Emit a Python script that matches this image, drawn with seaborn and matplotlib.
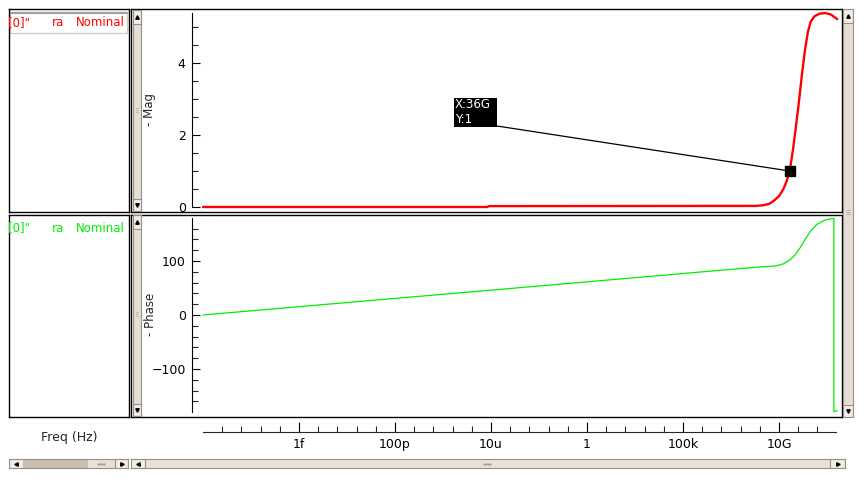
import numpy as np
import pandas as pd
import matplotlib.pyplot as plt
import seaborn as sns
from matplotlib.patches import Rectangle
from matplotlib.ticker import FixedLocator, FixedFormatter, NullFormatter

sns.set_style("white")
plt.rcParams['font.family'] = ['DejaVu Sans']

# magnitude trace (log10 of frequency, value)
mag_logf = [-20.0, -5.2, -5.1, 8.8, 9.2, 9.5, 9.7, 10.0, 10.23, 10.4, 10.556, 10.73,
            10.85, 11.0, 11.2, 11.35, 11.5, 11.65, 11.85, 12.1, 12.4, 12.7, 13.03]
mag_val = [0.0, 0.0, 0.025, 0.03, 0.05, 0.09, 0.16, 0.3, 0.5, 0.72, 1.0, 1.6,
           2.1, 2.75, 3.7, 4.35, 4.85, 5.15, 5.3, 5.37, 5.39, 5.35, 5.22]

# phase trace
phase_logf = [-20.0, -15.0, -10.0, -5.0, 0.0, 5.0, 8.0, 9.0, 9.8, 10.21, 10.57, 10.83,
              11.09, 11.35, 11.61, 11.98, 12.4, 12.86, 12.86, 13.03]
phase_val = [0.0, 15.4, 30.7, 46.0, 61.4, 76.8, 86.0, 89.0, 90.7, 94.4, 102.0, 111.0,
             124.0, 139.0, 154.0, 168.0, 176.0, 179.0, -179.0, -177.0]

cursor_f, cursor_y = 36e9, 1.0
xtick_vals = [1e-15, 1e-10, 1e-5, 1.0, 1e5, 1e10]
xtick_labels = ['1f', '100p', '10u', '1', '100k', '10G']

W, H = 866, 478
fig = plt.figure(figsize=(W / 100, H / 100), dpi=100)
fig.patch.set_facecolor('white')


def rect(x0, y0, x1, y1):
    return [x0 / W, 1 - y1 / H, (x1 - x0) / W, (y1 - y0) / H]


def box(x0, y0, x1, y1, fc='white', ec='black', lw=1.0, z=1):
    ax = fig.add_axes(rect(x0, y0, x1, y1), zorder=z)
    ax.set_facecolor(fc)
    ax.set_xticks([])
    ax.set_yticks([])
    for s in ax.spines.values():
        s.set_edgecolor(ec)
        s.set_linewidth(lw)
    ax.set_xlim(x0, x1)
    ax.set_ylim(y1, y0)
    return ax


def arrow_box(ax, x0, y0, x1, y1, mark):
    ax.add_patch(Rectangle((x0, y0), x1 - x0, y1 - y0, fc='#f1ede8', ec='#9a8f84', lw=0.8))
    ax.plot([(x0 + x1) / 2], [(y0 + y1) / 2], marker=mark, ms=2.5, color='black')


def vscroll(x0, y0, x1, y1, grip_y):
    ax = box(x0, y0, x1, y1, fc='#e6ded4', ec='#9a8f84', lw=0.8, z=3)
    arrow_box(ax, x0, y0, x1, y0 + 14, '^')
    arrow_box(ax, x0, y1 - 12, x1, y1, 'v')
    for d in (-2, 0, 2):
        ax.plot([x0 + 3, x1 - 3], [grip_y + d, grip_y + d], color='#b5aa9e', lw=0.6)


def hscroll(x0, y0, x1, y1, dark_end, grip_x, right_arrow):
    ax = box(x0, y0, x1, y1, fc='#e8e1d8', ec='#9a8f84', lw=0.8, z=3)
    arrow_box(ax, x0, y0, x0 + 14, y1, '<')
    if dark_end:
        ax.add_patch(Rectangle((x0 + 14, y0), dark_end - x0 - 14, y1 - y0, fc='#cbbcad', ec='none'))
    arrow_box(ax, right_arrow, y0, x1, y1, '>')
    for d in (-3, -1, 1, 3):
        ax.plot([grip_x + d], [(y0 + y1) / 2], marker='s', ms=0.6, color='#a99e92')


# legend panels
leg1 = box(9, 9, 129, 211.5)
leg1.add_patch(Rectangle((10, 12), 117, 21, fc='none', ec='#d6cec6', lw=1))
leg1.plot([10, 127], [12.5, 12.5], color='#a0a0a0', lw=1.5)
for txt, x in (('[0]"', 8.3), ('ra', 52), ('Nominal', 76)):
    leg1.text(x, 22.5, txt, color='#ff0000', fontsize=8.5, va='center', ha='left', clip_on=True)
leg2 = box(9, 214.5, 129, 417)
for txt, x in (('[0]"', 8.3), ('ra', 52), ('Nominal', 76)):
    leg2.text(x, 228, txt, color='#00ee00', fontsize=8.5, va='center', ha='left', clip_on=True)

# plot frames
box(131, 9, 842, 211.5)
box(131, 214.5, 842, 417)

lo, hi = 10 ** ((192 - 587) / 19.2), 10 ** ((842 - 587) / 19.2)

# magnitude axes
ax1 = fig.add_axes(rect(192, 13, 842, 207), zorder=2)
ax1.patch.set_alpha(0)
mag_df = pd.DataFrame({'freq': 10.0 ** np.array(mag_logf), 'mag': mag_val})
sns.lineplot(data=mag_df, x='freq', y='mag', ax=ax1, color='#ff0000', linewidth=1.7,
             estimator=None, sort=False)
ax1.set_xscale('log')
ax1.set_xlim(lo, hi)
ax1.set_ylim(0, 5.39)
ax1.yaxis.set_major_locator(FixedLocator([0, 2, 4]))
ax1.yaxis.set_minor_locator(FixedLocator([0.5, 1, 1.5, 2.5, 3, 3.5, 4.5, 5]))

ax1.plot([cursor_f], [cursor_y], marker='s', ms=7, color='black', zorder=5)
ax1.annotate('', xy=(cursor_f, cursor_y), xytext=(497 / W, 1 - 126 / H),
             textcoords='figure fraction',
             arrowprops=dict(arrowstyle='-', color='black', lw=0.9, shrinkA=0, shrinkB=0))
fig.patches.append(Rectangle((454 / W, 1 - 127 / H), 43 / W, 29 / H, transform=fig.transFigure,
                             fc='black', ec='none', zorder=6))
fig.text(455 / W, 1 - 104.5 / H, 'X:36G', color='white', fontsize=8.5, va='center', zorder=7)
fig.text(455 / W, 1 - 119.5 / H, 'Y:1', color='white', fontsize=8.5, va='center', zorder=7)

# phase axes
ax2 = fig.add_axes(rect(192, 218, 842, 412), zorder=2)
ax2.patch.set_alpha(0)
ph_df = pd.DataFrame({'freq': 10.0 ** np.array(phase_logf), 'phase': phase_val})
sns.lineplot(data=ph_df, x='freq', y='phase', ax=ax2, color='#00ee00', linewidth=0.9,
             estimator=None, sort=False)
ax2.set_xscale('log')
ax2.set_xlim(lo, hi)
ax2.set_ylim(-179.6, 179.6)
ax2.yaxis.set_major_locator(FixedLocator([-100, 0, 100]))
ax2.yaxis.set_minor_locator(FixedLocator([-160, -140, -120, -80, -60, -40, -20,
                                          20, 40, 60, 80, 120, 140, 160]))

for ax in (ax1, ax2):
    for l in ax.lines:
        l.set_clip_on(False)
    for s in ('top', 'right', 'bottom'):
        ax.spines[s].set_visible(False)
    ax.spines['left'].set_linewidth(0.8)
    ax.spines['left'].set_color('black')
    ax.tick_params(axis='x', which='both', bottom=False, labelbottom=False)
    ax.tick_params(axis='y', which='major', direction='in', length=6, width=0.8,
                   labelsize=9, pad=4.5, left=True, colors='black')
    ax.tick_params(axis='y', which='minor', direction='in', length=4, width=0.8, left=True)
    ax.set_xlabel('')
    ax.set_ylabel('')

fig.text(150 / W, 1 - 110 / H, '- Mag', rotation=90, fontsize=8.5, ha='center', va='center')
fig.text(150 / W, 1 - 314 / H, '- Phase', rotation=90, fontsize=8.5, ha='center', va='center')

# frequency axis
ax3 = fig.add_axes(rect(192, 400, 842, 432), zorder=2)
ax3.patch.set_alpha(0)
ax3.set_xscale('log')
ax3.set_xlim(lo, hi)
ax3.set_yticks([])
for s in ('top', 'right', 'left'):
    ax3.spines[s].set_visible(False)
ax3.spines['bottom'].set_bounds(1e-20, 10 ** 12.97)
ax3.spines['bottom'].set_linewidth(0.8)
ax3.xaxis.set_major_locator(FixedLocator(xtick_vals))
ax3.xaxis.set_major_formatter(FixedFormatter(xtick_labels))
ax3.xaxis.set_minor_locator(FixedLocator([10.0 ** k for k in range(-19, 13) if k % 5]))
ax3.xaxis.set_minor_formatter(NullFormatter())
ax3.tick_params(axis='x', which='major', direction='in', length=7, width=0.8, labelsize=9,
                pad=4, bottom=True, colors='black')
ax3.tick_params(axis='x', which='minor', direction='in', length=4.5, width=0.8, bottom=True)
fig.text(69 / W, 1 - 437 / H, 'Freq (Hz)', fontsize=9, ha='center', va='center')

# scrollbars
vscroll(133, 10, 141, 211, 110)
vscroll(133, 215, 141, 416, 314)
vscroll(843, 9, 853, 417, 212)
hscroll(9, 459, 128, 468, 88, 101, 115)
hscroll(131, 459, 845, 468, None, 487, 830)

fig.savefig('out.png', dpi=100, facecolor='white')
